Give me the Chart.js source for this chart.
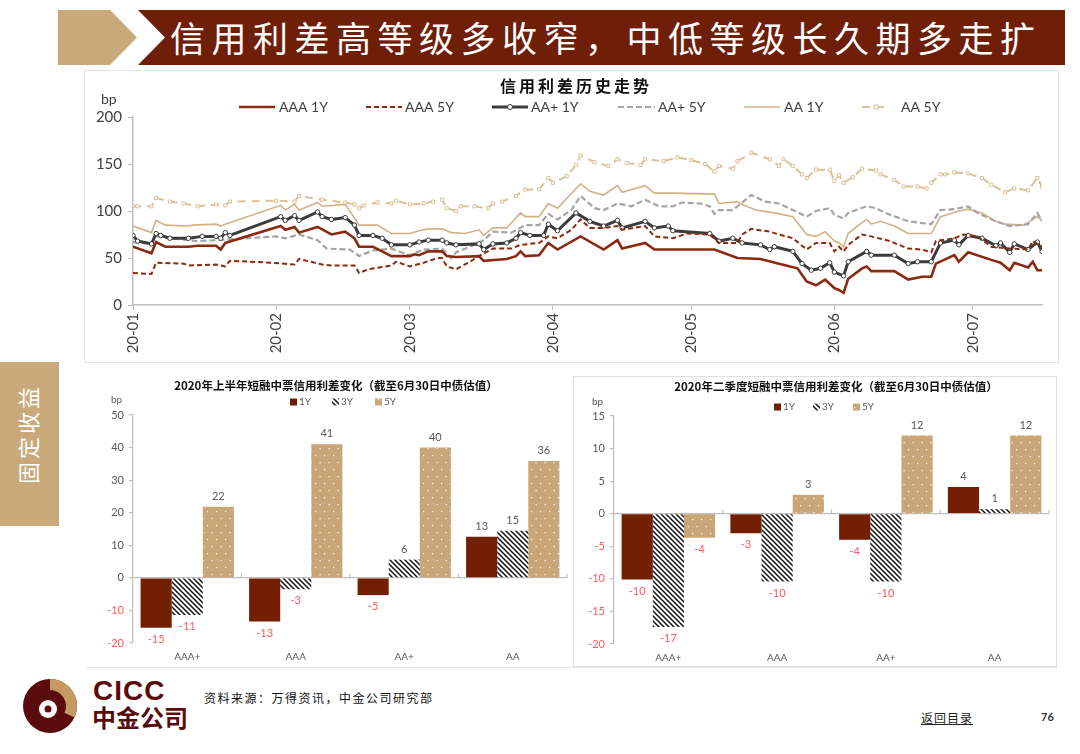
<!DOCTYPE html>
<html>
<head>
<meta charset="utf-8">
<script src="https://cdn.jsdelivr.net/npm/chart.js@4.4.1/dist/chart.umd.min.js"></script>
<style>
  body { margin:0; width:1080px; height:754px; position:relative; overflow:hidden; background:#fff;
         font-family:"Noto Sans CJK SC","Noto Sans",sans-serif; }
  .abs { position:absolute; }
  #headline { left:170px; top:12px; font-size:35px; color:#fff; letter-spacing:6.5px; line-height:50px; white-space:nowrap; }
  #tab { left:-23px; top:419px; width:100px; height:30px; line-height:30px; text-align:center; color:#fff;
         font-size:22px; letter-spacing:3px; transform:rotate(-90deg); white-space:nowrap; }
  #cicc { left:93px; top:675px; font:bold 28px "Liberation Sans",Arial,sans-serif; color:#5a0b0b; letter-spacing:1px; }
  #cicc-cn { left:92px; top:701px; font-weight:bold; font-size:24px; color:#5a0b0b; line-height:32px; }
  #source { left:204px; top:689px; font-size:12px; letter-spacing:1.5px; color:#111; }
  #back { left:921px; top:709px; font-size:12px; letter-spacing:1px; color:#222; text-decoration:underline; }
  #page { left:1041px; top:710px; font:bold 11px Lato,sans-serif; color:#333; }
</style>
</head>
<body>
<svg class="abs" style="left:0;top:0" width="1080" height="754">
  <polygon points="58,10 110,10 137,37.5 110,65 58,65" fill="#c9a979"/>
  <polygon points="138,10 1065,10 1065,65 138,65 165,37.5" fill="#6f1e07"/>
  <rect x="84.5" y="70.5" width="974" height="292" fill="none" stroke="#e4e4e4"/>
  <rect x="573.5" y="376.5" width="483" height="290" fill="none" stroke="#e0e0e0"/>
  <line x1="87" y1="667.5" x2="1058" y2="667.5" stroke="#e4e4e4"/>
  <rect x="0" y="362" width="59" height="164" fill="#c9a979"/>
  <circle cx="50" cy="706" r="27" fill="#5a0b0b"/>
  <path d="M50 679 A27 27 0 0 1 74.5 717.4 L64.5 712.8 A16 16 0 0 0 50 690 Z" fill="#c49a62"/>
  <circle cx="48" cy="709" r="9" fill="#fff"/>
  <circle cx="48" cy="709" r="3.5" fill="#5a0b0b"/>
</svg>
<div id="headline" class="abs">信用利差高等级多收窄，中低等级长久期多走扩</div>
<div id="tab" class="abs">固定收益</div>
<div id="cicc" class="abs">CICC</div>
<div id="cicc-cn" class="abs">中金公司</div>
<div id="source" class="abs">资料来源：万得资讯，中金公司研究部</div>
<div id="back" class="abs">返回目录</div>
<div id="page" class="abs">76</div>

<canvas id="trend" class="abs" style="left:85px;top:70px" width="975" height="292"></canvas>
<canvas id="h1" class="abs" style="left:88px;top:368px" width="482" height="297"></canvas>
<canvas id="q2" class="abs" style="left:573px;top:376px" width="484" height="289"></canvas>

<script>
// ---- top chart: day index counted from 2020-01-01, spread in bp
const monthDays = [0, 31, 60, 91, 121, 152, 182];
const monthLabels = ['20-01', '20-02', '20-03', '20-04', '20-05', '20-06', '20-07'];
const seriesNames = ['AAA 1Y', 'AAA 5Y', 'AA+ 1Y', 'AA+ 5Y', 'AA 1Y', 'AA 5Y'];

const AAA_1Y = [[0,62],[4,55],[5,67],[7,62],[12,62],[14,63],[18,63],[19,59],[20,66],[32,84],[33,80],[35,83],[36,77],[40,83],[43,75],[46,78],[48,71],[49,62],[52,62],[54,57],[56,52],[60,52],[61,54],[62,53],[64,57],[67,57],[68,52],[70,51],[75,52],[76,47],[81,49],[83,52],[84,57],[85,52],[88,53],[90,66],[92,59],[97,73],[102,59],[105,69],[106,60],[111,66],[113,59],[126,59],[131,50],[136,49],[140,44],[144,39],[146,25],[148,21],[150,27],[152,18],[153,16],[154,13],[155,28],[158,39],[159,41],[160,36],[165,36],[168,27],[171,30],[173,30],[174,44],[178,53],[179,46],[181,56],[186,48],[188,45],[190,37],[191,45],[194,40],[195,46],[196,37],[197,37]];
const AAA_5Y = [[0,34],[4,33],[5,45],[11,44],[12,42],[18,43],[20,41],[21,47],[30,45],[35,43],[36,49],[41,43],[43,42],[48,42],[49,34],[51,38],[56,42],[57,46],[60,41],[63,45],[66,50],[67,50],[68,41],[70,38],[73,46],[75,52],[76,55],[78,60],[82,60],[84,64],[88,66],[90,73],[92,71],[95,80],[97,91],[99,82],[102,82],[105,84],[106,80],[111,84],[113,73],[117,71],[120,76],[125,75],[127,66],[131,66],[132,75],[134,81],[138,78],[140,75],[143,71],[146,59],[148,66],[151,66],[152,57],[153,62],[154,57],[155,64],[158,75],[160,73],[164,68],[168,60],[171,59],[173,56],[174,68],[178,71],[180,75],[183,73],[186,62],[190,60],[194,59],[195,68],[197,62]];
const AA_PLUS_1Y = [[0,74],[1,68],[4,65],[5,76],[6,74],[8,71],[12,71],[15,73],[18,73],[19,71],[20,77],[21,74],[32,94],[33,90],[35,95],[36,90],[40,99],[41,94],[43,91],[46,93],[48,85],[49,74],[52,74],[54,71],[56,64],[60,64],[62,67],[64,69],[67,69],[68,66],[70,64],[75,65],[76,59],[78,65],[81,66],[83,71],[84,77],[86,74],[89,74],[90,86],[92,79],[96,98],[99,89],[102,84],[105,90],[106,82],[111,89],[113,82],[116,84],[117,79],[125,76],[127,68],[130,71],[132,66],[136,64],[138,59],[139,62],[143,57],[145,44],[147,37],[149,39],[151,45],[152,35],[154,31],[155,46],[159,57],[160,53],[165,53],[168,44],[170,46],[173,46],[175,66],[178,69],[179,64],[181,74],[184,71],[187,63],[188,66],[190,56],[191,65],[194,59],[196,67],[197,57]];
const AA_PLUS_5Y = [[0,67],[4,65],[5,73],[12,69],[14,68],[18,69],[31,73],[33,71],[36,75],[40,69],[42,60],[47,59],[49,52],[52,58],[56,60],[60,53],[63,59],[67,60],[69,50],[70,56],[74,64],[76,69],[78,78],[82,77],[85,85],[88,85],[90,97],[92,91],[95,101],[97,116],[100,103],[102,101],[105,108],[108,105],[111,112],[114,105],[117,105],[119,109],[123,108],[125,105],[126,97],[127,101],[130,101],[134,117],[137,110],[140,108],[143,101],[146,94],[148,100],[151,103],[152,96],[154,92],[155,98],[159,105],[161,103],[163,98],[168,89],[173,86],[175,101],[178,102],[181,105],[183,98],[187,89],[190,84],[194,86],[196,98],[197,89]];
const AA_1Y = [[0,84],[4,77],[5,90],[7,85],[12,84],[13,85],[18,86],[19,84],[20,86],[32,106],[33,101],[35,107],[36,101],[40,109],[41,105],[46,107],[49,85],[53,85],[56,76],[60,76],[62,79],[64,81],[67,81],[69,77],[72,76],[75,80],[76,74],[78,82],[81,82],[84,98],[85,94],[88,94],[90,108],[92,103],[97,129],[99,121],[102,117],[105,127],[106,120],[111,127],[113,119],[117,119],[126,118],[127,108],[131,110],[132,107],[135,101],[139,98],[143,94],[146,75],[148,73],[150,78],[152,68],[153,66],[154,62],[155,76],[157,84],[159,91],[160,86],[162,89],[165,84],[168,76],[173,76],[175,94],[179,100],[181,102],[184,98],[187,89],[189,86],[193,85],[196,94],[197,90]];
const AA_5Y = [[0,105],[1,105],[4,105],[5,114],[8,110],[11,108],[14,105],[18,107],[20,106],[21,110],[31,111],[35,110],[36,116],[41,112],[46,109],[48,107],[49,103],[50,106],[53,109],[56,108],[57,111],[60,107],[63,108],[65,110],[67,112],[68,103],[70,100],[71,105],[74,105],[77,103],[78,108],[80,110],[83,116],[85,123],[88,123],[90,135],[91,130],[94,137],[96,149],[97,159],[100,152],[103,148],[105,155],[107,151],[110,149],[111,155],[115,153],[118,157],[121,154],[124,150],[126,142],[127,148],[130,145],[131,153],[134,162],[138,155],[140,148],[141,155],[143,148],[145,139],[146,135],[148,144],[151,144],[152,132],[153,138],[154,130],[156,136],[158,145],[161,143],[162,139],[165,133],[167,126],[170,126],[172,124],[173,130],[175,139],[176,139],[178,141],[181,140],[184,135],[186,128],[189,120],[191,124],[194,122],[196,135],[197,126]];

// ---- bar charts: change in spread (bp)
const ratingCats = ['AAA+', 'AAA', 'AA+', 'AA'];
const tenors = ['1Y', '3Y', '5Y'];
const h1_1Y = [-15.3, -13.4, -5.3, 12.6];
const h1_3Y = [-11.4, -3.5, 5.6, 14.5];
const h1_5Y = [21.8, 41, 40, 35.9];
const q2_1Y = [-10.1, -3, -4, 4.1];
const q2_3Y = [-17.4, -10.4, -10.4, 0.7];
const q2_5Y = [-3.7, 2.9, 12, 12];

const trendSeries = [AAA_1Y, AAA_5Y, AA_PLUS_1Y, AA_PLUS_5Y, AA_1Y, AA_5Y];
const lineStyles = [
  { color: '#8b2a10', width: 2.6, dash: [] },
  { color: '#8b2a10', width: 2, dash: [5, 3] },
  { color: '#3c3c3c', width: 3, dash: [], marker: 'circle' },
  { color: '#a5a5a5', width: 2.2, dash: [6, 3] },
  { color: '#d3b184', width: 1.6, dash: [] },
  { color: '#dcc196', width: 2, dash: [8, 6], marker: 'rect' }
];
// legend sample start/end and text x, page coords
const legendPos = [[239, 275, 279], [366, 402, 405], [492, 528, 531], [618, 655, 658], [744, 780, 784], [862, 890, 901]];

const toXY = arr => arr.map(p => ({ x: p[0], y: p[1] }));

const trendDecor = {
  id: 'trendDecor',
  afterDraw(chart) {
    const g = chart.ctx, ox = 85, oy = 70;
    g.save();
    g.fillStyle = '#111';
    g.font = 'bold 16px "Noto Sans CJK SC"';
    g.textAlign = 'center';
    g.textBaseline = 'middle';
    g.letterSpacing = '3px';
    g.fillText('信用利差历史走势', 576 - ox, 86 - oy);
    g.letterSpacing = '0px';
    g.font = '14px Lato';
    g.fillStyle = '#404040';
    g.textAlign = 'left';
    g.fillText('bp', 101 - ox, 99 - oy);
    chart.data.datasets.forEach((ds, i) => {
      const st = lineStyles[i], p = legendPos[i], y = 107 - oy;
      g.strokeStyle = st.color;
      g.lineWidth = st.width;
      g.setLineDash(st.dash);
      g.beginPath();
      g.moveTo(p[0] - ox, y);
      g.lineTo(p[1] - ox, y);
      g.stroke();
      g.setLineDash([]);
      const mx = (p[0] + p[1]) / 2 - ox;
      g.fillStyle = '#fff';
      g.lineWidth = 1;
      if (st.marker === 'circle') {
        g.beginPath(); g.arc(mx, y, 2.5, 0, Math.PI * 2); g.fill(); g.stroke();
      } else if (st.marker === 'rect') {
        g.fillRect(mx - 2, y - 2, 4, 4); g.strokeRect(mx - 2, y - 2, 4, 4);
      }
      g.fillStyle = '#404040';
      g.fillText(ds.label, p[2] - ox, y);
    });
    g.restore();
  }
};

new Chart(document.getElementById('trend'), {
  type: 'line',
  data: {
    datasets: trendSeries.map((s, i) => ({
      label: seriesNames[i],
      data: toXY(s),
      borderColor: lineStyles[i].color,
      borderWidth: lineStyles[i].width,
      borderDash: lineStyles[i].dash,
      pointRadius: lineStyles[i].marker ? 2.2 : 0,
      pointStyle: lineStyles[i].marker || 'circle',
      pointBackgroundColor: '#fff',
      pointBorderColor: lineStyles[i].color,
      pointBorderWidth: 1,
      tension: 0,
      fill: false
    }))
  },
  options: {
    responsive: false,
    animation: false,
    events: [],
    layout: { padding: { top: 47, right: 18, left: 0, bottom: 0 } },
    plugins: { legend: { display: false }, tooltip: { enabled: false } },
    scales: {
      x: {
        type: 'linear', min: 0, max: 197,
        afterBuildTicks: s => { s.ticks = monthDays.map(v => ({ value: v })); },
        afterFit: s => { s.height = 57; },
        grid: { drawOnChartArea: false, tickLength: 5, color: '#bfbfbf' },
        border: { color: '#bfbfbf', width: 1.5 },
        ticks: {
          autoSkip: false, minRotation: 90, maxRotation: 90, padding: 3,
          color: '#404040', font: { family: 'Lato', size: 15 },
          callback: (v, i) => monthLabels[i]
        }
      },
      y: {
        min: 0, max: 200,
        afterFit: s => { s.width = 48; },
        grid: { drawOnChartArea: false, tickLength: 5, color: '#bfbfbf' },
        border: { color: '#bfbfbf', width: 1.5 },
        ticks: { stepSize: 50, padding: 6, color: '#404040', font: { family: 'Lato', size: 15 } }
      }
    }
  },
  plugins: [trendDecor]
});

// ---- bar fills: solid, hatched, dotted
function stripes() {
  const c = document.createElement('canvas');
  c.width = c.height = 5;
  const g = c.getContext('2d');
  g.fillStyle = '#fff'; g.fillRect(0, 0, 5, 5);
  g.strokeStyle = '#111'; g.lineWidth = 1.5;
  g.beginPath();
  g.moveTo(-1, -1); g.lineTo(6, 6);
  g.moveTo(-1, 4); g.lineTo(1, 6);
  g.moveTo(4, -1); g.lineTo(6, 1);
  g.stroke();
  return g.createPattern(c, 'repeat');
}
function dots() {
  const c = document.createElement('canvas');
  c.width = 9; c.height = 14;
  const g = c.getContext('2d');
  g.fillStyle = '#c9a677'; g.fillRect(0, 0, 9, 14);
  g.fillStyle = '#fff';
  g.fillRect(2, 3, 1.2, 1.2);
  g.fillRect(6.5, 10, 1.2, 1.2);
  return g.createPattern(c, 'repeat');
}
const barFill = ['#721f03', stripes(), dots()];

const barDecor = {
  id: 'barDecor',
  afterDatasetsDraw(chart) {
    const o = chart.options.plugins.barDecor, g = chart.ctx;
    const area = chart.chartArea, y0 = chart.scales.y.getPixelForValue(0);
    g.save();
    // separators on the zero line
    g.strokeStyle = '#bfbfbf'; g.lineWidth = 1.2;
    for (let i = 1; i <= 4; i++) {
      const x = area.left + i * (area.right - area.left) / 4;
      g.beginPath(); g.moveTo(x, y0); g.lineTo(x, y0 - 4); g.stroke();
    }
    // value labels
    g.font = '11px Lato';
    g.textAlign = 'center';
    chart.data.datasets.forEach((ds, di) => {
      chart.getDatasetMeta(di).data.forEach((bar, j) => {
        const v = ds.data[j];
        const txt = String(Math.round(v));
        if (v >= 0) {
          g.fillStyle = '#595959'; g.textBaseline = 'bottom';
          g.fillText(txt, bar.x, bar.y - 5);
        } else {
          g.fillStyle = '#ff5a5a'; g.textBaseline = 'top';
          g.fillText(txt, bar.x, bar.y + 6);
        }
      });
    });
    // title
    g.fillStyle = '#111';
    g.font = 'bold 11.5px "Noto Sans CJK SC"';
    g.textBaseline = 'middle';
    g.fillText(o.title, o.titleX - o.ox, o.titleY - o.oy);
    // bp
    g.font = '10px Lato';
    g.fillStyle = '#595959';
    g.textAlign = 'left';
    g.fillText('bp', o.bpX - o.ox, o.bpY - o.oy);
    // legend
    chart.data.datasets.forEach((ds, di) => {
      const x = o.legendX[di] - o.ox, y = o.legendY - o.oy;
      g.fillStyle = ds.backgroundColor;
      g.fillRect(x, y - 3.5, 7, 7);
      g.fillStyle = '#595959';
      g.fillText(ds.label, x + 9, y);
    });
    g.restore();
  }
};

function barChart(id, series, o) {
  return new Chart(document.getElementById(id), {
    type: 'bar',
    data: {
      labels: ratingCats,
      datasets: series.map((s, i) => ({
        label: tenors[i], data: s, backgroundColor: barFill[i], borderWidth: 0,
        categoryPercentage: 0.86, barPercentage: 1
      }))
    },
    options: {
      responsive: false,
      animation: false,
      events: [],
      layout: { padding: { top: o.padTop, right: o.padRight, left: 0, bottom: 0 } },
      plugins: { legend: { display: false }, tooltip: { enabled: false }, barDecor: o },
      scales: {
        x: {
          afterFit: s => { s.height = o.xh; },
          grid: { display: false, drawTicks: false },
          border: { display: false },
          ticks: { padding: 8, color: '#595959', font: { family: 'Lato', size: 10 } }
        },
        y: {
          min: o.min, max: o.max,
          afterFit: s => { s.width = o.yw; },
          grid: {
            color: c => (c.tick && c.tick.value === 0) ? '#bfbfbf' : 'rgba(0,0,0,0)',
            tickColor: '#bfbfbf', tickLength: 4, lineWidth: 1.2
          },
          border: { color: '#bfbfbf', width: 1.2 },
          ticks: {
            stepSize: o.step, padding: 5, font: { family: 'Lato', size: 11 },
            color: c => c.tick.value < 0 ? '#ff5a5a' : '#595959'
          }
        }
      }
    },
    plugins: [barDecor]
  });
}

barChart('h1', [h1_1Y, h1_3Y, h1_5Y], {
  ox: 88, oy: 368, padTop: 47, padRight: 3, xh: 22, yw: 45, min: -20, max: 50, step: 10,
  title: '2020年上半年短融中票信用利差变化（截至6月30日中债估值）', titleX: 336, titleY: 386,
  bpX: 111, bpY: 400, legendX: [290, 332, 375], legendY: 402
});
barChart('q2', [q2_1Y, q2_3Y, q2_5Y], {
  ox: 573, oy: 376, padTop: 40, padRight: 8, xh: 21, yw: 41, min: -20, max: 15, step: 5,
  title: '2020年二季度短融中票信用利差变化（截至6月30日中债估值）', titleX: 836, titleY: 387,
  bpX: 592, bpY: 402, legendX: [774, 813, 853], legendY: 407
});
</script>
</body>
</html>
